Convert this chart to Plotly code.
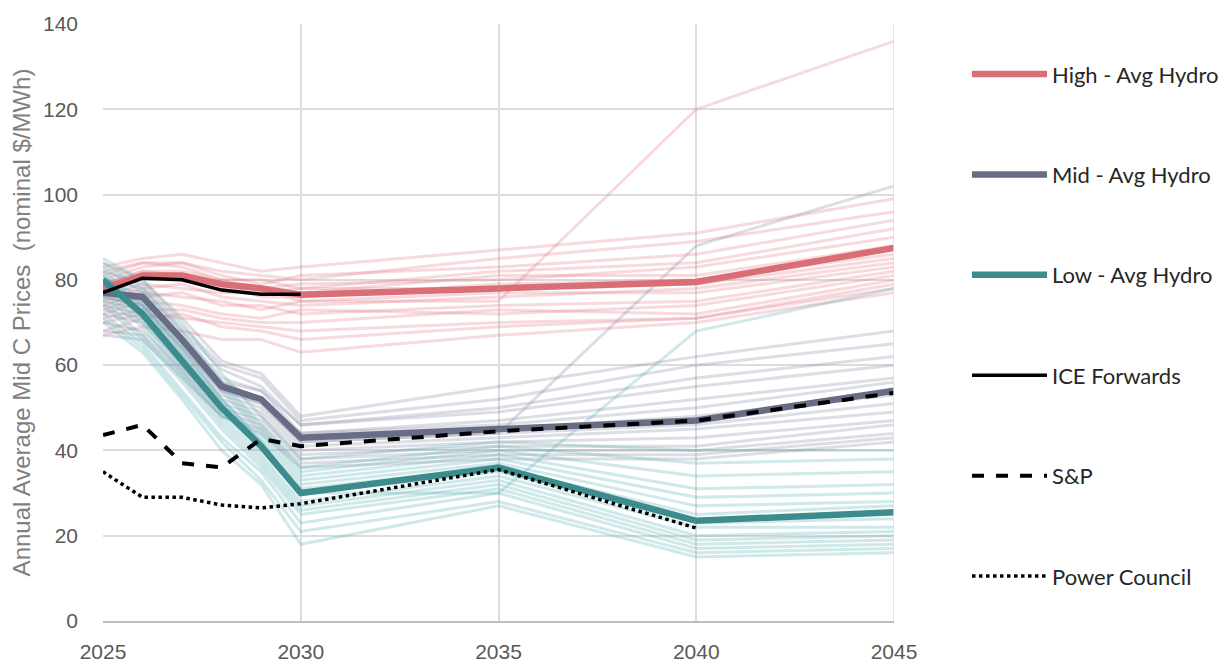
import plotly.graph_objects as go

years = [2025, 2026, 2027, 2028, 2029, 2030, 2035, 2040, 2045]

high_runs = [
    [83, 85, 86, 84, 82, 83, 87, 91, 99],
    [81, 84, 84, 82, 81, 80, 85, 89, 96],
    [80, 83, 84, 81, 79, 81, 83, 86, 94],
    [82, 84, 83, 80, 80, 78, 82, 84, 92],
    [79, 82, 82, 80, 78, 79, 80, 83, 90],
    [78, 81, 80, 78, 77, 77, 81, 81, 88],
    [77, 80, 81, 79, 76, 76, 79, 80, 86],
    [76, 79, 78, 77, 77, 78, 78, 79, 85],
    [75, 78, 79, 76, 75, 74, 76, 78, 84],
    [74, 77, 76, 75, 73, 75, 77, 77, 83],
    [73, 76, 77, 74, 74, 72, 74, 75, 82],
    [72, 75, 74, 72, 71, 73, 72, 74, 81],
    [71, 73, 73, 71, 70, 70, 73, 72, 80],
    [70, 72, 71, 70, 69, 68, 70, 71, 79],
    [68, 71, 72, 69, 68, 66, 69, 71, 78],
    [67, 69, 68, 66, 66, 63, 67, 70, 77],
    [79, 82, 81, 79, 78, 75, 75, 120, 136],
]
mid_runs = [
    [84, 80, 71, 61, 58, 48, 55, 62, 68],
    [82, 79, 69, 60, 57, 47, 52, 60, 65],
    [80, 78, 68, 59, 55, 46, 50, 57, 62],
    [79, 77, 67, 57, 54, 46, 49, 55, 60],
    [78, 76, 66, 56, 54, 44, 47, 52, 57],
    [77, 75, 65, 56, 52, 44, 46, 50, 56],
    [76, 74, 64, 54, 51, 43, 45, 48, 53],
    [75, 73, 63, 53, 50, 42, 44, 46, 51],
    [74, 72, 62, 52, 49, 41, 43, 45, 49],
    [73, 71, 61, 51, 48, 40, 42, 43, 47],
    [72, 70, 60, 50, 47, 39, 41, 41, 46],
    [70, 68, 59, 49, 46, 38, 40, 40, 44],
    [68, 67, 58, 48, 45, 37, 39, 39, 43],
    [67, 66, 57, 48, 44, 36, 38, 38, 42],
    [76, 74, 64, 54, 51, 42, 44, 88, 102],
]
low_runs = [
    [85, 80, 70, 58, 48, 38, 42, 40, 40],
    [84, 78, 68, 56, 46, 36, 41, 37, 38],
    [83, 77, 66, 55, 45, 35, 40, 34, 35],
    [82, 75, 65, 54, 44, 34, 39, 31, 32],
    [81, 74, 64, 52, 43, 33, 38, 29, 30],
    [80, 73, 62, 51, 42, 32, 37, 27, 28],
    [79, 72, 61, 50, 41, 31, 36, 25, 27],
    [78, 71, 60, 49, 40, 30, 35, 23, 24],
    [77, 70, 59, 48, 39, 28, 34, 22, 22],
    [76, 69, 58, 47, 38, 27, 33, 20, 21],
    [75, 67, 57, 46, 37, 26, 32, 19, 20],
    [74, 66, 56, 45, 36, 25, 31, 18, 19],
    [72, 65, 54, 43, 35, 23, 30, 17, 18],
    [71, 64, 53, 42, 33, 21, 28, 16, 17],
    [70, 63, 52, 40, 32, 18, 27, 15, 16],
    [81, 74, 63, 52, 42, 30, 30, 68, 78],
]

high_avg = [78, 81, 81, 79, 78, 76.5, 78, 79.5, 87.5]
mid_avg = [77, 76, 66, 55, 52, 43, 45, 47, 54]
low_avg = [80, 72, 61, 50, 41, 30, 36, 23.5, 25.5]

ice_years = [2025, 2026, 2027, 2028, 2029, 2030]
ice = [77, 80.4, 80, 77.6, 76.6, 76.6]
sp = [43.6, 46, 37, 36, 42.7, 41, 44.5, 47, 53.5]
pc_years = [2025, 2026, 2027, 2028, 2029, 2030, 2035, 2040]
pc = [35, 29, 29, 27.2, 26.5, 27.5, 35.5, 21.8]

HIGH = "rgb(217,110,118)"
MID = "rgb(104,108,132)"
LOW = "rgb(60,140,142)"
HIGH_F = "rgba(224,120,128,0.27)"
MID_F = "rgba(130,134,158,0.27)"
LOW_F = "rgba(90,175,178,0.29)"

fig = go.Figure()

for runs, col in [(high_runs, HIGH_F), (mid_runs, MID_F), (low_runs, LOW_F)]:
    for r in runs:
        fig.add_trace(go.Scatter(x=years, y=r, mode="lines",
                                 line=dict(color=col, width=3),
                                 showlegend=False, hoverinfo="skip"))

fig.add_trace(go.Scatter(x=years, y=high_avg, mode="lines", name="High - Avg Hydro",
                         legendgroup="a", legendrank=1,
                         line=dict(color=HIGH, width=6.5)))
fig.add_trace(go.Scatter(x=years, y=mid_avg, mode="lines", name="Mid - Avg Hydro",
                         legendgroup="b", legendrank=2,
                         line=dict(color=MID, width=6.5)))
fig.add_trace(go.Scatter(x=years, y=low_avg, mode="lines", name="Low - Avg Hydro",
                         legendgroup="c", legendrank=3,
                         line=dict(color=LOW, width=6.5)))
fig.add_trace(go.Scatter(x=ice_years, y=ice, mode="lines", name="ICE Forwards",
                         legendgroup="d", legendrank=4,
                         line=dict(color="black", width=3.5)))
fig.add_trace(go.Scatter(x=years, y=sp, mode="lines", name="S&P",
                         legendgroup="e", legendrank=5,
                         line=dict(color="black", width=4, dash="dash")))
fig.add_trace(go.Scatter(x=pc_years, y=pc, mode="lines", name="Power Council",
                         legendgroup="f", legendrank=6,
                         line=dict(color="black", width=3.5, dash="dot")))

grid = "#DCDCDC"
fig.update_layout(
    width=1221, height=654,
    margin=dict(l=95, r=335, t=16, b=41, autoexpand=False),
    paper_bgcolor="white", plot_bgcolor="white",
    font=dict(family="Liberation Sans, Arial, sans-serif", color="#595959"),
    legend=dict(x=1.0923, y=0.951, xanchor="left", yanchor="top",
                font=dict(family="Lato, sans-serif", size=22, color="#262626"),
                itemwidth=75, tracegroupgap=68.8, bgcolor="rgba(0,0,0,0)"),
    xaxis=dict(range=[2025, 2045], tickvals=[2025, 2030, 2035, 2040, 2045],
               showgrid=True, gridcolor=grid, gridwidth=1.5,
               showline=True, linecolor="#BFBFBF", linewidth=2,
               zeroline=False, ticks="", tickfont=dict(size=21),
               ticklabelstandoff=11, automargin=False),
    yaxis=dict(range=[0, 140], tickvals=[0, 20, 40, 60, 80, 100, 120, 140],
               showgrid=True, gridcolor=grid, gridwidth=1.5,
               zeroline=False, showline=False, ticks="", tickfont=dict(size=21),
               ticklabelstandoff=24, automargin=False,
               title=dict(text="Annual Average Mid C Prices  (nominal $/MWh)",
                          font=dict(size=24, color="#808080"), standoff=10)),
)
fig.add_vline(x=2045, line=dict(color=grid, width=1.5))

fig.write_html("out.html")
